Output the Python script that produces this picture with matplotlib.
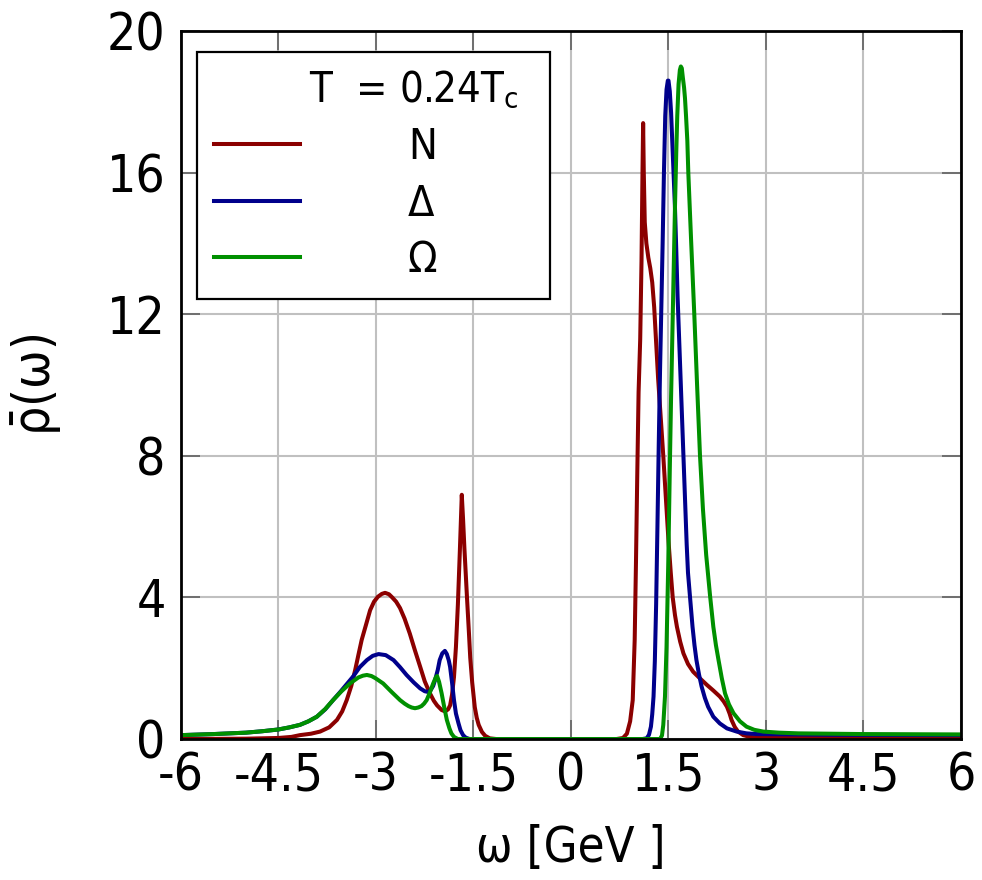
import matplotlib
matplotlib.use("Agg")
import matplotlib.pyplot as plt

plt.rcParams["font.family"] = ["DejaVu Sans"]
plt.rcParams["font.stretch"] = "condensed"
plt.rcParams["mathtext.fontset"] = "dejavusans"
plt.rcParams["mathtext.default"] = "regular"
plt.rcParams["axes.unicode_minus"] = False

# Spectral functions rho_bar(omega) at T = 0.24 Tc
omega_N = [-6.0, -5.0, -4.5, -4.3, -4.17, -4.0, -3.86, -3.72, -3.60, -3.52,
           -3.45, -3.38, -3.32, -3.27, -3.22, -3.15, -3.09, -3.03, -2.97, -2.91,
           -2.86, -2.80, -2.75, -2.69, -2.63, -2.56, -2.48, -2.40, -2.32, -2.25,
           -2.17, -2.11, -2.06, -1.99, -1.95, -1.92, -1.89, -1.86, -1.83, -1.80,
           -1.77, -1.74, -1.71, -1.68, -1.66, -1.64, -1.62, -1.60, -1.57, -1.55,
           -1.52, -1.48, -1.45, -1.42, -1.37, -1.32, -1.25, -1.15, 0.70, 0.80,
           0.86, 0.91, 0.95, 0.98, 1.00, 1.02, 1.04, 1.065, 1.085, 1.10,
           1.11, 1.12, 1.135, 1.16, 1.19, 1.22, 1.25, 1.28, 1.31, 1.34,
           1.38, 1.42, 1.46, 1.50, 1.535, 1.565, 1.60, 1.63, 1.68, 1.73,
           1.80, 1.88, 1.98, 2.09, 2.19, 2.29, 2.35, 2.40, 2.44, 2.47,
           2.52, 2.57, 2.65, 2.75, 3.0, 6.0]
rho_N = [0.0, 0.01, 0.03, 0.06, 0.11, 0.15, 0.21, 0.33, 0.54, 0.78,
         1.10, 1.50, 1.95, 2.38, 2.80, 3.25, 3.64, 3.88, 4.02, 4.10,
         4.13, 4.09, 4.00, 3.88, 3.70, 3.40, 2.98, 2.50, 2.04, 1.63,
         1.29, 1.08, 0.95, 0.82, 0.79, 0.80, 0.84, 0.95, 1.25, 1.75,
         2.60, 3.80, 5.30, 6.90, 6.20, 5.40, 4.70, 4.00, 3.00, 2.30,
         1.60, 0.90, 0.60, 0.40, 0.20, 0.09, 0.02, 0.0, 0.0, 0.03,
         0.15, 0.50, 1.10, 2.80, 5.00, 7.50, 9.80, 11.30, 13.50, 16.00,
         17.40, 16.00, 14.60, 14.00, 13.60, 13.30, 12.90, 12.20, 11.20, 10.20,
         9.10, 8.00, 6.80, 5.60, 4.70, 4.00, 3.50, 3.17, 2.75, 2.42,
         2.12, 1.90, 1.72, 1.53, 1.37, 1.20, 1.06, 0.91, 0.72, 0.54,
         0.34, 0.21, 0.11, 0.06, 0.03, 0.03]

omega_Delta = [-6.0, -5.5, -5.0, -4.75, -4.5, -4.33, -4.17, -4.04, -3.91, -3.78,
               -3.66, -3.55, -3.45, -3.35, -3.25, -3.14, -3.05, -2.96, -2.85, -2.73,
               -2.63, -2.53, -2.42, -2.32, -2.25, -2.20, -2.16, -2.12, -2.09, -2.05,
               -2.02, -1.98, -1.94, -1.91, -1.88, -1.86, -1.83, -1.80, -1.77, -1.73,
               -1.70, -1.66, -1.62, -1.56, 1.10, 1.165, 1.20, 1.23, 1.25, 1.27,
               1.29, 1.31, 1.33, 1.35, 1.37, 1.39, 1.41, 1.43, 1.45, 1.47,
               1.49, 1.50, 1.52, 1.54, 1.56, 1.58, 1.60, 1.62, 1.64, 1.66,
               1.68, 1.70, 1.72, 1.75, 1.78, 1.80, 1.83, 1.87, 1.90, 1.93,
               1.97, 2.01, 2.06, 2.11, 2.19, 2.29, 2.40, 2.55, 2.70, 2.86,
               4.0, 6.0]
rho_Delta = [0.11, 0.14, 0.18, 0.22, 0.27, 0.33, 0.40, 0.50, 0.63, 0.84,
             1.10, 1.33, 1.55, 1.77, 2.03, 2.23, 2.35, 2.40, 2.37, 2.23,
             2.03, 1.81, 1.60, 1.43, 1.35, 1.33, 1.38, 1.50, 1.67, 1.95,
             2.23, 2.42, 2.49, 2.40, 2.22, 2.04, 1.60, 1.10, 0.72, 0.44,
             0.25, 0.11, 0.04, 0.0, 0.0, 0.02, 0.12, 0.35, 0.70, 1.20,
             2.20, 3.80, 6.00, 8.30, 10.40, 12.20, 14.00, 16.00, 17.60, 18.35,
             18.60, 18.60, 18.30, 17.70, 16.80, 15.90, 15.00, 13.80, 12.50, 11.50,
             10.50, 9.50, 8.50, 7.00, 5.50, 4.70, 4.04, 3.17, 2.65, 2.23,
             1.82, 1.48, 1.16, 0.91, 0.63, 0.44, 0.30, 0.21, 0.16, 0.14,
             0.12, 0.11]

omega_Omega = [-6.0, -5.5, -5.0, -4.75, -4.5, -4.33, -4.17, -4.04, -3.91, -3.78,
               -3.66, -3.53, -3.40, -3.27, -3.20, -3.14, -3.07, -3.01, -2.89, -2.76,
               -2.63, -2.56, -2.50, -2.45, -2.40, -2.35, -2.30, -2.26, -2.22, -2.17,
               -2.12, -2.08, -2.06, -2.03, -1.99, -1.95, -1.91, -1.87, -1.84, -1.80,
               -1.74, 1.37, 1.40, 1.42, 1.446, 1.47, 1.497, 1.52, 1.54, 1.565,
               1.585, 1.60, 1.62, 1.635, 1.655, 1.675, 1.69, 1.705, 1.72, 1.74,
               1.754, 1.77, 1.79, 1.805, 1.85, 1.897, 1.94, 1.985, 2.03, 2.08,
               2.14, 2.19, 2.23, 2.27, 2.32, 2.37, 2.43, 2.50, 2.60, 2.70,
               2.82, 2.96, 3.2, 3.5, 4.5, 6.0]
rho_Omega = [0.11, 0.14, 0.18, 0.22, 0.27, 0.33, 0.40, 0.50, 0.63, 0.85,
             1.10, 1.35, 1.57, 1.74, 1.79, 1.81, 1.78, 1.72, 1.57, 1.33,
             1.10, 1.00, 0.93, 0.89, 0.87, 0.89, 0.93, 1.00, 1.10, 1.32,
             1.57, 1.74, 1.78, 1.62, 1.29, 0.90, 0.54, 0.30, 0.16, 0.06,
             0.0, 0.0, 0.10, 0.40, 1.20, 2.60, 5.00, 7.60, 9.67, 11.90,
             13.70, 15.04, 16.60, 17.60, 18.50, 18.90, 19.00, 18.95, 18.70, 18.40,
             18.10, 17.60, 16.90, 16.00, 14.00, 12.00, 10.00, 8.00, 6.50, 5.20,
             4.04, 3.17, 2.65, 2.23, 1.72, 1.29, 0.98, 0.73, 0.50, 0.35,
             0.26, 0.21, 0.18, 0.16, 0.14, 0.13]

series_labels = ["N", "\u0394", "\u03a9"]
series_colors = ["#8b0000", "#00008b", "#009000"]

x_ticks = [-6, -4.5, -3, -1.5, 0, 1.5, 3, 4.5, 6]
x_ticklabels = ["-6", "-4.5", "-3", "-1.5", "0", "1.5", "3", "4.5", "6"]
y_ticks = [0, 4, 8, 12, 16, 20]

fig = plt.figure(figsize=(9.82, 8.80), dpi=100)
ax = fig.add_axes([0.1843, 0.1602, 0.7943, 0.8045])

for w, r, lab, col in zip([omega_N, omega_Delta, omega_Omega],
                          [rho_N, rho_Delta, rho_Omega],
                          series_labels, series_colors):
    ax.plot(w, r, color=col, lw=2.9, label=lab, solid_joinstyle="round")

ax.set_xlim(-6, 6)
ax.set_ylim(0, 20)
ax.set_xticks(x_ticks)
ax.set_xticklabels(x_ticklabels)
ax.set_yticks(y_ticks)
ax.grid(True, color="#c0c0c0", lw=1.5)
ax.set_axisbelow(True)
ax.tick_params(direction="in", top=True, right=True, length=14, width=1.2,
               color="#606060", labelsize=37)
ax.tick_params(axis="x", pad=9)
ax.tick_params(axis="y", pad=11)
for sp in ax.spines.values():
    sp.set_linewidth(2.0)
    sp.set_color("black")

ax.set_xlabel("\u03c9 [GeV ]", fontsize=35)
ax.xaxis.set_label_coords(0.5, -0.12)
ax.xaxis.label.set_verticalalignment("top")
ax.set_ylabel(r"$\bar{\rho}(\omega)$", fontsize=37)
ax.yaxis.set_label_coords(-0.15, 0.5)

leg = ax.legend(loc="upper left", bbox_to_anchor=(0.0205, 0.9703),
                borderaxespad=0, fontsize=31,
                title="        T  = 0.24T$_c$  ", title_fontsize=30,
                alignment="left", handlelength=2.0, handletextpad=2.5,
                labelspacing=0.34, borderpad=0.4, fancybox=False,
                framealpha=1, edgecolor="black")
leg.get_frame().set_linewidth(1.6)

fig.savefig("out.png", dpi=100)
